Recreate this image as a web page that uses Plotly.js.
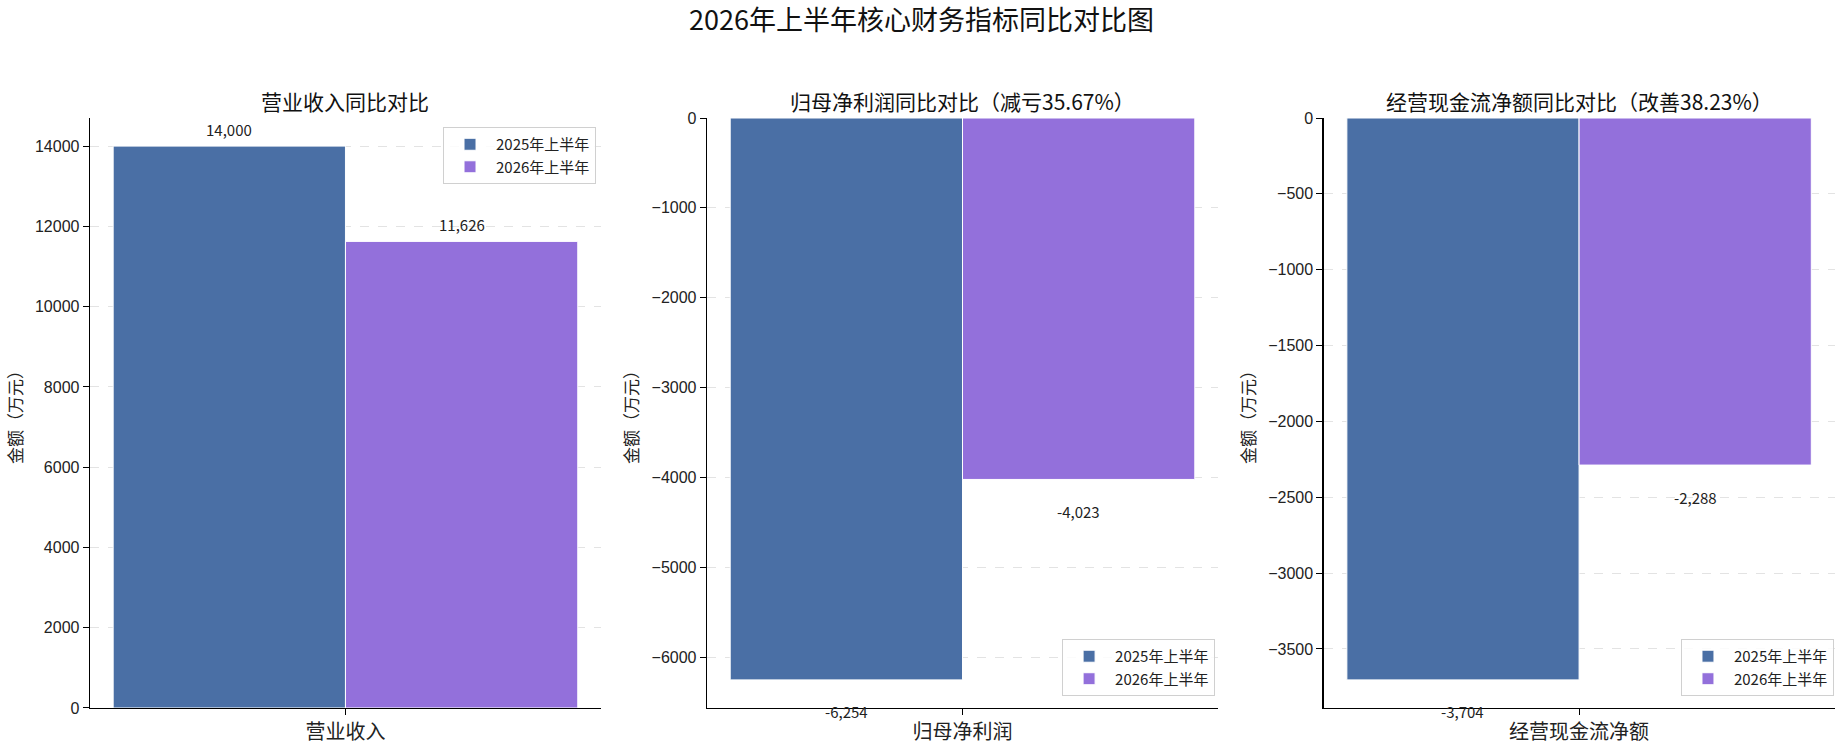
<!DOCTYPE html>
<html>
<head>
<meta charset="utf-8">
<script src="https://cdn.plot.ly/plotly-3.0.1.min.js"></script>
<style>
  body { margin: 0; background: #fff; }
  #myDiv { width: 1843px; height: 745px; }
</style>
</head>
<body>
<div id="myDiv"></div>
<script>
// values (万元)
var seriesNames = ['2025年上半年', '2026年上半年'];
var metrics = ['营业收入', '归母净利润', '经营现金流净额'];
var panelTitles = ['营业收入同比对比', '归母净利润同比对比（减亏35.67%）', '经营现金流净额同比对比（改善38.23%）'];
var h1_2025 = [14000, -6254, -3704];
var h1_2026 = [11626, -4023, -2288];
var yTickStep = [2000, 1000, 500];

var colors = ['#4a6fa5', '#9370db'];
var cjk = '"Noto Sans CJK SC", "Noto Sans", sans-serif';
var tickFont = '"Liberation Sans", Arial, sans-serif';

var xDomains = [[0.0488, 0.3261], [0.3836, 0.6609], [0.7182, 0.9954]];
var yDomain = [0.0497, 0.8416];
var legendPos = [
  {x: 0.3234, y: 0.8295, yanchor: 'top'},
  {x: 0.6593, y: 0.0658, yanchor: 'bottom'},
  {x: 0.9951, y: 0.0658, yanchor: 'bottom'}
];

var data = [];
var layout = {
  autosize: false,
  width: 1843,
  height: 745,
  margin: {l: 0, r: 0, t: 0, b: 0},
  paper_bgcolor: '#fff',
  plot_bgcolor: '#fff',
  barmode: 'group',
  bargap: 0.3,
  bargroupgap: 0,
  showlegend: true,
  font: {family: cjk, color: '#222'},
  title: {
    text: '2026年上半年核心财务指标同比对比图',
    font: {family: cjk, size: 27, color: '#111'},
    x: 0.5, xanchor: 'center',
    y: 0.972, yanchor: 'middle'
  },
  annotations: []
};

for (var p = 0; p < 3; p++) {
  var sfx = p === 0 ? '' : String(p + 1);
  var vals = [h1_2025[p], h1_2026[p]];
  for (var s = 0; s < 2; s++) {
    data.push({
      type: 'bar',
      name: seriesNames[s],
      x: [metrics[p]],
      y: [vals[s]],
      xaxis: 'x' + sfx,
      yaxis: 'y' + sfx,
      legend: 'legend' + sfx,
      marker: {color: colors[s], line: {color: '#ffffff', width: 1}},
      hoverinfo: 'none'
    });

    // value labels
    var neg = vals[s] < 0;
    layout.annotations.push({
      xref: 'x' + sfx, yref: 'y' + sfx,
      x: s === 0 ? -0.175 : 0.175,
      y: vals[s],
      xanchor: 'center', yanchor: 'middle',
      text: vals[s].toLocaleString('en-US'),
      showarrow: false,
      yshift: neg ? -32 : 17,
      font: {family: cjk, size: 15, color: '#222'}
    });
  }

  var ymax = Math.max(0, h1_2025[p], h1_2026[p]);
  var ymin = Math.min(0, h1_2025[p], h1_2026[p]);

  layout['xaxis' + sfx] = {
    domain: xDomains[p],
    anchor: 'y' + sfx,
    type: 'category',
    range: [-0.385, 0.385],
    showline: true, linecolor: '#000', linewidth: 1.3,
    ticks: 'outside', ticklen: 6, tickcolor: '#000',
    showgrid: false, zeroline: false,
    tickfont: {family: cjk, size: 20, color: '#222'}
  };
  layout['yaxis' + sfx] = {
    domain: yDomain,
    anchor: 'x' + sfx,
    range: [ymin * 1.05, ymax * 1.05],
    dtick: yTickStep[p],
    tickformat: 'd',
    showline: true, linecolor: '#000', linewidth: 1.3,
    ticks: 'outside', ticklen: 6, tickcolor: '#000',
    showgrid: true, gridcolor: '#e3e3e3', griddash: 'dash', gridwidth: 1,
    zeroline: false,
    tickfont: {family: tickFont, size: 16, color: '#222'},
    title: {text: '金额（万元）', font: {family: cjk, size: 17, color: '#222'}, standoff: 8}
  };
  layout['legend' + sfx] = {
    x: legendPos[p].x, xanchor: 'right',
    y: legendPos[p].y, yanchor: legendPos[p].yanchor,
    bgcolor: 'rgba(255,255,255,0.85)',
    bordercolor: '#d0d0d0', borderwidth: 1,
    font: {family: cjk, size: 15, color: '#222'},
    itemwidth: 42,
    tracegroupgap: 2
  };

  // subplot titles
  layout.annotations.push({
    xref: 'paper', yref: 'paper',
    x: (xDomains[p][0] + xDomains[p][1]) / 2,
    y: 0.8644,
    xanchor: 'center', yanchor: 'middle',
    text: panelTitles[p],
    showarrow: false,
    font: {family: cjk, size: 21, color: '#111'}
  });
}

Plotly.newPlot('myDiv', data, layout, {staticPlot: true});
</script>
</body>
</html>
